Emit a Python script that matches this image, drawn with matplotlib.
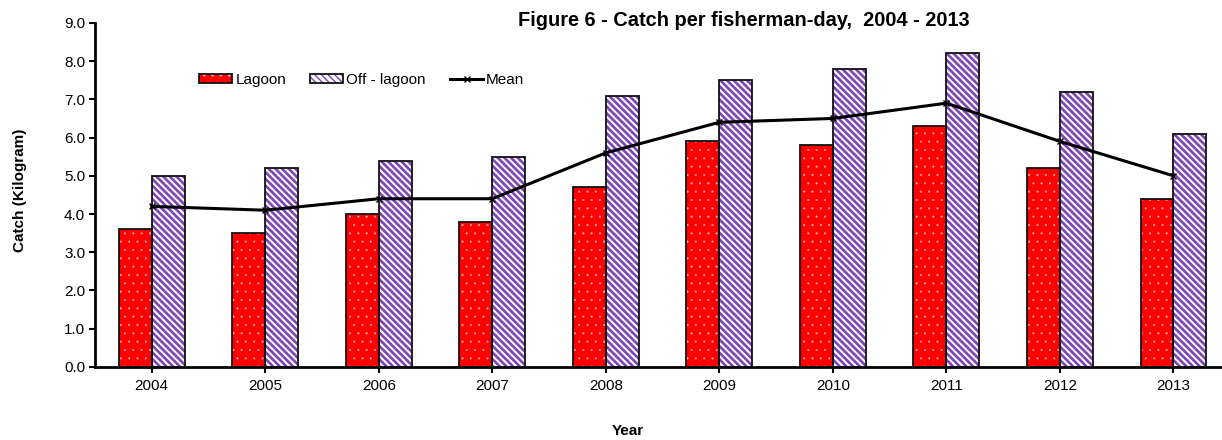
import numpy as np
import matplotlib
matplotlib.use("Agg")
import matplotlib.pyplot as plt
from matplotlib.legend_handler import HandlerTuple

plt.rcParams['font.family'] = ['Liberation Sans', 'DejaVu Sans']

# Data
years = ["2004", "2005", "2006", "2007", "2008", "2009", "2010", "2011", "2012", "2013"]
lagoon = [3.6, 3.5, 4.0, 3.8, 4.7, 5.9, 5.8, 6.3, 5.2, 4.4]
off_lagoon = [5.0, 5.2, 5.4, 5.5, 7.1, 7.5, 7.8, 8.2, 7.2, 6.1]
mean = [4.2, 4.1, 4.4, 4.4, 5.6, 6.4, 6.5, 6.9, 5.9, 5.0]

x = np.arange(len(years))
w = 0.29

fig = plt.figure(figsize=(12.22, 4.4), dpi=100)
ax = fig.add_axes([0.0777, 0.166, 0.929, 0.782])

# filled + hatched bars (hatch colour comes from edgecolor)
with plt.rc_context({'hatch.linewidth': 0.3}):
    b1 = ax.bar(x - w / 2, lagoon, w, color="#ff0000", edgecolor="#ffb0b0",
                hatch="..", linewidth=0, zorder=2)
with plt.rc_context({'hatch.linewidth': 1.9}):
    b2 = ax.bar(x + w / 2, off_lagoon, w, color="white", edgecolor="#7d45b5",
                hatch="\\" * 5, linewidth=0, zorder=2)
# black outlines
o1 = ax.bar(x - w / 2, lagoon, w, fill=False, edgecolor="#111111", linewidth=1.3, zorder=3)
o2 = ax.bar(x + w / 2, off_lagoon, w, fill=False, edgecolor="#111111", linewidth=1.3, zorder=3)

ln, = ax.plot(x, mean, color="black", linewidth=2.2, marker="x", markersize=5,
              markeredgewidth=1.0, zorder=4)

ax.set_xlim(-0.5, len(years) - 0.5)
ax.set_ylim(0, 9)
ax.set_yticks(np.arange(0, 9.1, 1.0))
ax.set_yticklabels([f"{v:.1f}" for v in np.arange(0, 9.1, 1.0)])
ax.set_xticks(x)
ax.set_xticklabels(years)
ax.tick_params(axis="both", labelsize=11, width=1.5, length=4, direction="out", pad=3)
ax.tick_params(axis="x", length=4, pad=5)

for s in ["top", "right"]:
    ax.spines[s].set_visible(False)
ax.spines["left"].set_linewidth(2)
ax.spines["bottom"].set_linewidth(2)

ax.set_ylabel("Catch (Kilogram)", fontsize=11, fontweight="bold")
ax.yaxis.set_label_coords(20 / 1222, 1 - 190 / 440, transform=fig.transFigure)
ax.set_xlabel("Year", fontsize=11, fontweight="bold")
ax.xaxis.set_label_coords(628 / 1222, 1 - 431 / 440, transform=fig.transFigure)
ax.xaxis.label.set_va("center")
ax.yaxis.label.set_va("center")

fig.text(744 / 1222, 1 - 20 / 440, "Figure 6 - Catch per fisherman-day,  2004 - 2013",
         ha="center", va="center", fontsize=14.4, fontweight="bold")

ax.legend(handles=[(b1, o1), (b2, o2), ln], labels=["Lagoon", "Off - lagoon", "Mean"],
          handler_map={tuple: HandlerTuple(ndivide=1, pad=0)},
          loc="center left", bbox_to_anchor=(0.092, 0.834),
          ncol=3, frameon=False, fontsize=11, handlelength=2.15, handleheight=0.6,
          handletextpad=0.2, columnspacing=1.6, borderpad=0.0, borderaxespad=0.0)

fig.savefig("out.png", dpi=100)
